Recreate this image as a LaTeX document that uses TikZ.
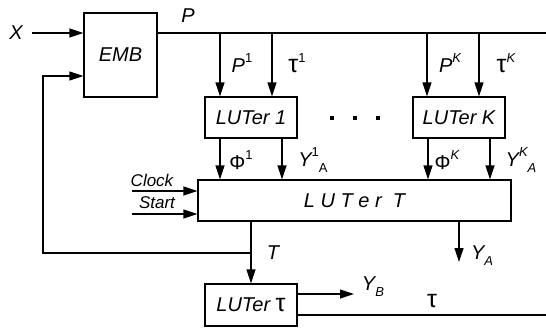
\documentclass[tikz,border=0pt]{standalone}
\usepackage{fontspec}
\setmainfont{Liberation Sans}
\usetikzlibrary{arrows.meta, positioning}

\newcommand{\hi}[1]{\raisebox{0.5em}{\fontsize{13}{13}\selectfont #1}}
\newcommand{\lo}[1]{\raisebox{-0.3em}{\fontsize{13}{13}\selectfont #1}}
\newcommand{\tauch}{{\upshape\fontsize{25}{25}\selectfont τ}}

\begin{document}
\begin{tikzpicture}[
  x=1pt, y=-1pt, line width=1.2pt,
  blk/.style={draw, line width=1.2pt, inner sep=0pt,
              font=\fontsize{20}{24}\selectfont\itshape},
  sig/.style={-{Triangle[length=14pt, width=9pt]}},
  lab/.style={inner sep=1pt, font=\fontsize{20}{24}\selectfont\itshape},
  small/.style={inner sep=0pt, font=\fontsize{17}{20}\selectfont\itshape}
]
\useasboundingbox (0,0) rectangle (546,329);

% blocks
\node[blk, minimum width=73pt, minimum height=84pt] (emb) at (120.5,55) {EMB};
\node[blk, minimum width=92pt, minimum height=41pt] (lut1) at (251,117.5) {LUTer 1};
\node[blk, minimum width=92pt, minimum height=41pt] (lutk) at (459,117.5) {LUTer K};
\node[blk, minimum width=313pt, minimum height=41pt] (lutt) at (354.5,200.5) {L U T e r \ T};
\node[blk, minimum width=92pt, minimum height=42pt] (luttau) at (251,305) {LUTer \tauch};

\coordinate (busR) at (546,33);
\coordinate (clkin) at (132,191);
\coordinate (stin) at (132,214);
\coordinate (fb) at (251,253);
\coordinate (tauR) at (546,315);

% input and bus
\node[lab] (xin) at (16,33) {X};
\draw[sig] ([xshift=8pt]xin.east) -- (emb.west |- xin.east);
\draw (emb.east |- busR) -- (busR);
\node[lab] (p) at (188,16) {P};

% bus to LUTers
\draw[sig] ([xshift=-31pt]lut1.north |- busR) -- ([xshift=-31pt]lut1.north);
\draw[sig] ([xshift=21pt]lut1.north |- busR) -- ([xshift=21pt]lut1.north);
\draw[sig] ([xshift=-32pt]lutk.north |- busR) -- ([xshift=-32pt]lutk.north);
\draw[sig] ([xshift=20pt]lutk.north |- busR) -- ([xshift=20pt]lutk.north);
\node[lab] (p1) at (242,63) {P\hi{\upshape 1}};
\node[lab] (t1) at (297,63) {\tauch\hi{\upshape 1}};
\node[lab] (pk) at (450,63) {P\hi{K}};
\node[lab] (tk) at (506,63) {\tauch\hi{K}};

\foreach \x in {332,355,378}
  \fill (\x-2,116) rectangle (\x+2,120);

% LUTers to LUTer T
\draw[sig] ([xshift=-31pt]lut1.south) -- ([xshift=-31pt]lut1.south |- lutt.north);
\draw[sig] ([xshift=31pt]lut1.south) -- ([xshift=31pt]lut1.south |- lutt.north);
\draw[sig] ([xshift=-31pt]lutk.south) -- ([xshift=-31pt]lutk.south |- lutt.north);
\draw[sig] ([xshift=31pt]lutk.south) -- ([xshift=31pt]lutk.south |- lutt.north);
\node[lab] (f1) at (241,160) {\upshape Φ\hi{1}};
\node[lab] (y1) at (313,160) {Y\hi{\upshape 1}\lo{\upshape A}};
\node[lab] (fk) at (447,160) {\upshape Φ\hi{\itshape K}};
\node[lab] (yk) at (521,160) {Y\hi{K}\lo{A}};

% clock and start
\node[small] (clk) at (152,180) {Clock};
\node[small] (st) at (157,203) {Start};
\draw[sig] (clkin) -- (clkin -| lutt.west);
\draw[sig] (stin) -- (stin -| lutt.west);

% outputs of LUTer T
\draw[sig] (lutt.south -| luttau.north) -- (luttau.north);
\node[lab] (t) at (273,253) {T};
\draw[sig] (fb) -- (fb -| 43,0) |- (emb.west |- 0,76);
\draw[sig] (lutt.south -| 459,0) -- (459,262);
\node[lab] (ya) at (482,256) {Y\lo{A}};

% LUTer tau outputs
\draw[sig] (luttau.east |- 0,294) -- (354,294);
\node[lab] (yb) at (373,287) {Y\lo{B}};
\draw (luttau.east |- tauR) -- (tauR);
\node[lab] (tau) at (432,301) {\tauch};
\end{tikzpicture}
\end{document}
